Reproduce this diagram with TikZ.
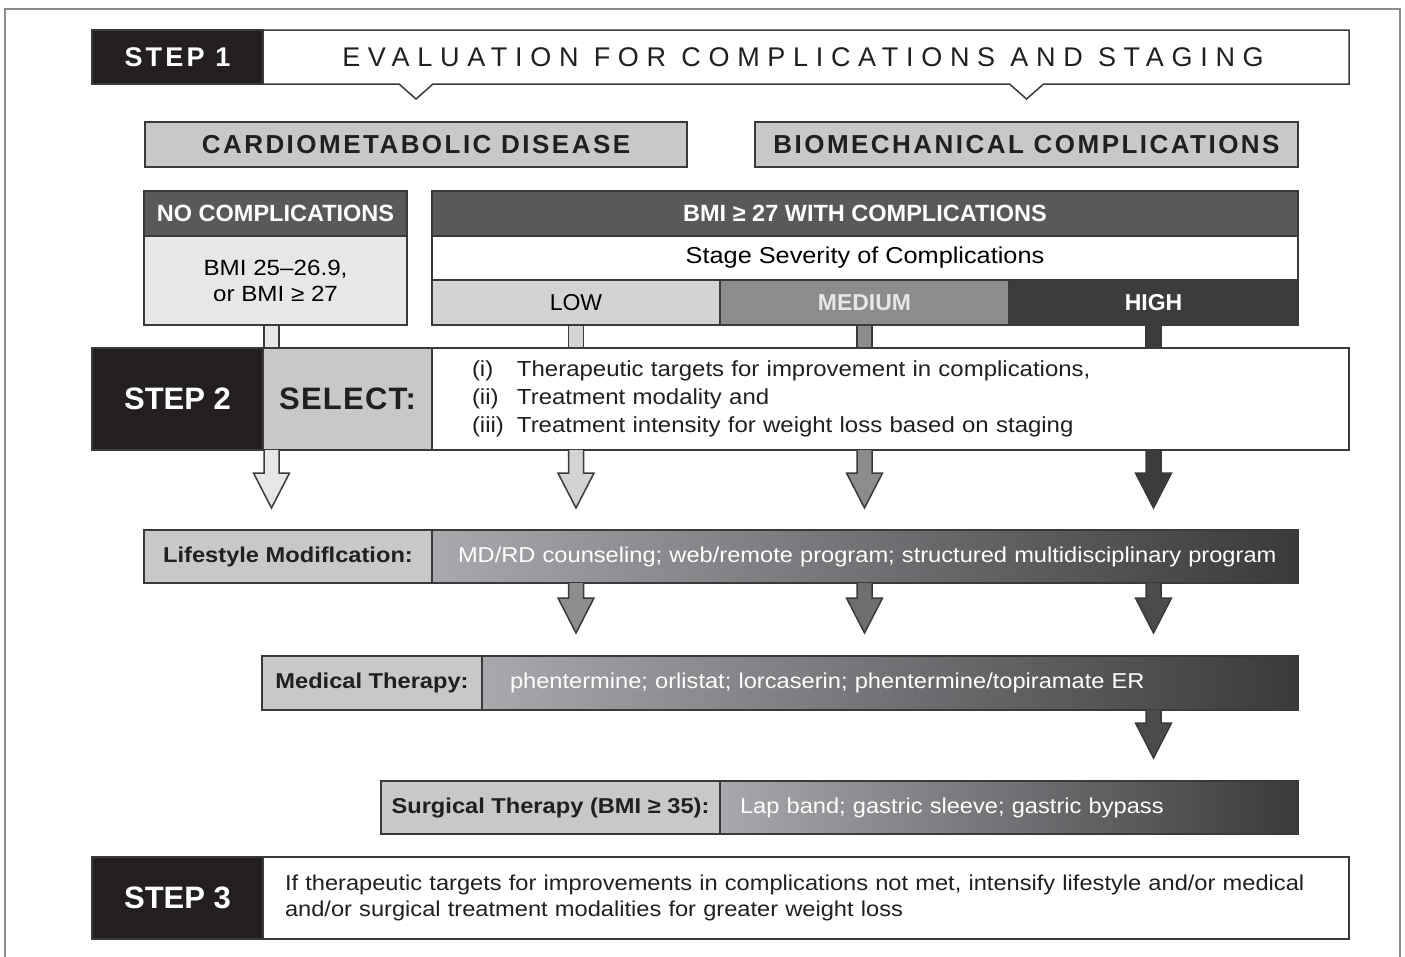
\documentclass[tikz,border=0pt]{standalone}
\usepackage{fontspec}
\setmainfont{Liberation Sans}
\newfontfamily\widefont[FakeStretch=1.1]{Liberation Sans}
\usetikzlibrary{calc}

\definecolor{inkblack}{HTML}{231F20}
\definecolor{edgegray}{HTML}{3A3A3A}
\definecolor{framegray}{HTML}{8C8C8C}
\definecolor{headgray}{HTML}{58595B}
\definecolor{panelgray}{HTML}{C7C8CA}
\definecolor{nocompgray}{HTML}{E6E7E8}
\definecolor{lowgray}{HTML}{D1D3D4}
\definecolor{medgray}{HTML}{8A8C8E}
\definecolor{highgray}{HTML}{3C3C3E}
\definecolor{gradleft}{HTML}{A7A9AC}
\definecolor{gradright}{HTML}{3A3A3C}
\definecolor{lifelow}{HTML}{8C8D8F}
\definecolor{lifemed}{HTML}{6E6F71}
\definecolor{lifehigh}{HTML}{4B4B4D}

\tikzset{
    box/.style={draw=edgegray, line width=1.5pt, inner sep=0pt, outer sep=0pt},
    steptag/.style={box, fill=inkblack, text=white,
        font=\fontsize{31}{31}\selectfont\bfseries},
    panel/.style={box, fill=panelgray, text=inkblack,
        font=\fontsize{26}{26}\selectfont\bfseries\addfontfeature{LetterSpace=9.5}},
    header/.style={box, fill=headgray, text=white,
        font=\fontsize{23.5}{23.5}\selectfont\bfseries},
    level/.style={box, font=\fontsize{23}{23}\selectfont},
    label/.style={box, fill=panelgray, text=inkblack,
        font=\widefont\fontsize{21.5}{21.5}\selectfont\bfseries},
    options/.style={box, left color=gradleft, right color=gradright, text=white,
        align=left, font=\widefont\fontsize{21.5}{21.5}\selectfont},
    arrowline/.style={draw=edgegray, line width=1.5pt},
}

\newcommand{\blockarrow}[3]{%
    \draw[arrowline, fill=#3] let \p1=(#1) in
        (\x1-7.5pt,\y1) -- (\x1-7.5pt,\y1-#2pt+35pt) -- (\x1-18pt,\y1-#2pt+35pt)
        -- (\x1,\y1-#2pt) -- (\x1+18pt,\y1-#2pt+35pt) -- (\x1+7.5pt,\y1-#2pt+35pt)
        -- (\x1+7.5pt,\y1);}
\newcommand{\stem}[3]{%
    \draw[arrowline, fill=#3] let \p1=(#1), \p2=(#2) in
        (\x1-7.5pt,\y1) rectangle (\x1+7.5pt,\y2);}

\begin{document}
\begin{tikzpicture}[x=1pt, y=-1pt]
    \useasboundingbox (0,0) rectangle (1405,956);
    \draw[framegray, line width=2pt] (5,9) rectangle (1400,975);

    % step 1
    \node[inner sep=0pt, outer sep=0pt, minimum width=1086, minimum height=54] (s1title) at (806,57) {};
    \node[panel, minimum width=542, minimum height=45] (cardio) at (416,144.5)
        {CARDIOMETABOLIC DISEASE};
    \node[panel, minimum width=543, minimum height=45] (biomech) at (1026.5,144.5)
        {BIOMECHANICAL COMPLICATIONS};
    \draw[box, fill=white]
        (s1title.north west) -- (s1title.north east) -- (s1title.south east)
        -- ($(biomech.north |- s1title.south)+(17,0)$) -- ++(-17,15) -- ++(-17,-15)
        -- ($(cardio.north |- s1title.south)+(17,0)$) -- ++(-17,15) -- ++(-17,-15)
        -- (s1title.south west) -- cycle;
    \node[text=inkblack, font=\fontsize{27}{27}\selectfont\addfontfeature{LetterSpace=28.5}]
        at ($(s1title)+(-3,0)$) {EVALUATION FOR COMPLICATIONS AND STAGING};
    \node[steptag, minimum width=171, minimum height=54,
        font=\fontsize{27}{27}\selectfont\bfseries\addfontfeature{LetterSpace=12}] (s1tag) at (177.5,57) {STEP 1};

    % staging
    \node[header, minimum width=263, minimum height=45] (nocompA) at (275.5,213.5) {NO COMPLICATIONS};
    \node[box, fill=nocompgray, minimum width=263, minimum height=89, align=center,
        font=\widefont\fontsize{22}{26}\selectfont] (nocompB) at (275.5,280.5)
        {BMI 25–26.9,\\or BMI ≥ 27};
    \node[header, minimum width=866, minimum height=45] (withcomp) at (865,213.5)
        {BMI ≥ 27 WITH COMPLICATIONS};
    \node[box, fill=white, minimum width=866, minimum height=44,
        font=\widefont\fontsize{23}{23}\selectfont] (stage) at (865,258) {Stage Severity of Complications};
    \node[level, fill=lowgray, minimum width=288, minimum height=45] (low) at (576,302.5) {LOW};
    \node[level, fill=medgray, text=nocompgray, minimum width=289, minimum height=45,
        font=\fontsize{23}{23}\selectfont\bfseries] (medium) at (864.5,302.5) {MEDIUM};
    \node[level, fill=highgray, text=white, minimum width=289, minimum height=45,
        font=\fontsize{23}{23}\selectfont\bfseries] (high) at (1153.5,302.5) {HIGH};

    % step 2
    \node[steptag, minimum width=171, minimum height=102] (s2tag) at (177.5,399) {STEP 2};
    \node[box, fill=panelgray, text=inkblack, minimum width=169, minimum height=102,
        font=\fontsize{31}{31}\selectfont\bfseries\addfontfeature{LetterSpace=4}] (select) at (347.5,399) {SELECT:};
    \node[box, fill=white, text=inkblack, minimum width=917, minimum height=102, text width=837,
        align=left, font=\widefont\fontsize{21.8}{28}\selectfont] (s2text) at (890.5,399)
        {\makebox[45pt][l]{(i)}Therapeutic targets for improvement in complications,\\
         \makebox[45pt][l]{(ii)}Treatment modality and\\
         \makebox[45pt][l]{(iii)}Treatment intensity for weight loss based on staging};

    \coordinate (col0) at ($(nocompB.south)+(-4,0)$);
    \stem{col0}{s2tag.north}{nocompgray}
    \stem{low.south}{s2tag.north}{lowgray}
    \stem{medium.south}{s2tag.north}{medgray}
    \stem{high.south}{s2tag.north}{highgray}

    \blockarrow{col0 |- s2tag.south}{58}{nocompgray}
    \blockarrow{low.south |- s2tag.south}{58}{lowgray}
    \blockarrow{medium.south |- s2tag.south}{58}{medgray}
    \blockarrow{high.south |- s2tag.south}{58}{highgray}

    % treatments
    \node[label, minimum width=288, minimum height=53] (lifelab) at (288,556.5) {Lifestyle Modiflcation:};
    \node[options, minimum width=866, minimum height=53, text width=814] (lifeopt) at (865,556.5)
        {\mbox{MD/RD counseling; web/remote program; structured multidisciplinary program}};
    \node[label, minimum width=220, minimum height=54] (medlab) at (372,683) {Medical Therapy:};
    \node[options, minimum width=816, minimum height=54, text width=760] (medopt) at (890,683)
        {phentermine; orlistat; lorcaserin; phentermine/topiramate ER};
    \node[label, minimum width=339, minimum height=53] (surglab) at (550.5,807.5) {Surgical Therapy (BMI ≥ 35):};
    \node[options, minimum width=578, minimum height=53, text width=538] (surgopt) at (1009,807.5)
        {Lap band; gastric sleeve; gastric bypass};

    \blockarrow{low.south |- lifeopt.south}{50}{lifelow}
    \blockarrow{medium.south |- lifeopt.south}{50}{lifemed}
    \blockarrow{high.south |- lifeopt.south}{50}{lifehigh}
    \blockarrow{high.south |- medopt.south}{48}{lifehigh}

    % step 3
    \node[steptag, minimum width=171, minimum height=82] (s3tag) at (177.5,898) {STEP 3};
    \node[box, fill=white, text=inkblack, minimum width=1086, minimum height=82, text width=1042,
        align=left, font=\widefont\fontsize{21.5}{26}\selectfont] (s3text) at (806,898)
        {If therapeutic targets for improvements in complications not met, intensify lifestyle and/or medical\\
         and/or surgical treatment modalities for greater weight loss};
\end{tikzpicture}
\end{document}
